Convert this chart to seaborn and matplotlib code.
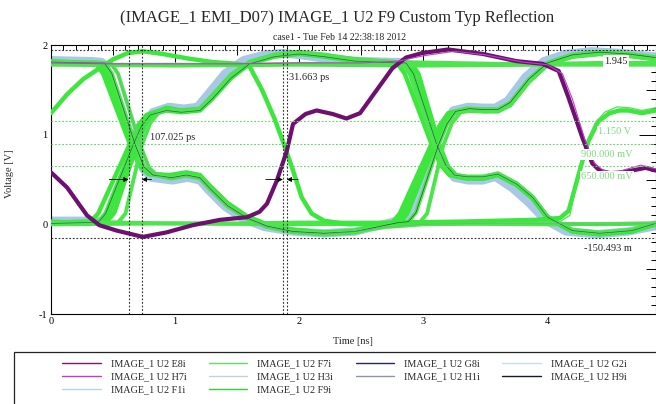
import matplotlib
matplotlib.use("Agg")
import matplotlib.pyplot as plt
from matplotlib.lines import Line2D
from matplotlib.patches import Rectangle
from matplotlib.ticker import FixedLocator, MultipleLocator, FuncFormatter
import seaborn as sns

# ---------------- waveform data (time in ns, voltage in V) ----------------
# eye traces: low -> rise at first crossing -> fall at second crossing
t1_t = [0, 0.22, 0.31, 0.38, 0.63, 0.70, 0.77, 0.93, 1.05, 1.2, 1.3, 1.45, 1.6, 1.8, 2.0, 2.2, 2.45, 2.71, 2.79, 2.85,
        3.07, 3.14, 3.21, 3.35, 3.48, 3.6, 3.75, 3.88, 4.0, 4.2, 4.42, 4.68, 4.87]
t1_v = [0.03, 0.02, 0.02, 0.12, 0.88, 1.1, 1.22, 1.29, 1.26, 1.28, 1.42, 1.65, 1.8, 1.88, 1.91, 1.88, 1.83, 1.80, 1.80, 1.68,
        0.88, 0.66, 0.55, 0.52, 0.52, 0.56, 0.45, 0.3, 0.08, -0.07, -0.1, -0.07, 0.01]
# high -> fall -> rise
t2_t = [0, 0.28, 0.36, 0.42, 0.64, 0.71, 0.78, 0.96, 1.09, 1.2, 1.28, 1.42, 1.58, 1.74, 1.95, 2.2, 2.45, 2.67, 2.75, 2.81,
        3.06, 3.13, 3.20, 3.35, 3.48, 3.6, 3.7, 3.85, 4.0, 4.2, 4.42, 4.65, 4.87]
t2_v = [1.82, 1.80, 1.80, 1.68, 0.88, 0.66, 0.57, 0.54, 0.57, 0.54, 0.42, 0.23, 0.08, -0.01, -0.07, -0.1, -0.08, 0.01, 0.02, 0.12,
        0.88, 1.1, 1.24, 1.28, 1.27, 1.27, 1.34, 1.6, 1.79, 1.88, 1.91, 1.89, 1.85]
t3_t = [0, 0.30, 0.38, 0.44, 0.66, 0.73, 0.80, 0.93, 1.05, 1.2, 1.3, 1.45, 1.6, 1.8, 2.0, 2.2, 2.45, 2.78, 2.86, 2.92,
        3.11, 3.18, 3.25, 3.35, 3.48, 3.6, 3.75, 3.88, 4.0, 4.2, 4.42, 4.68, 4.87]
t3_v = [0.01, 0.02, 0.02, 0.12, 0.88, 1.1, 1.22, 1.27, 1.25, 1.27, 1.40, 1.63, 1.79, 1.87, 1.90, 1.87, 1.82, 1.80, 1.80, 1.68,
        0.88, 0.66, 0.55, 0.53, 0.53, 0.56, 0.45, 0.3, 0.08, -0.07, -0.1, -0.07, 0.01]
t4_t = [0, 0.32, 0.40, 0.46, 0.66, 0.73, 0.80, 0.96, 1.09, 1.2, 1.28, 1.42, 1.58, 1.74, 1.95, 2.2, 2.45, 2.73, 2.81, 2.87,
        3.09, 3.16, 3.23, 3.35, 3.48, 3.6, 3.7, 3.85, 4.0, 4.2, 4.42, 4.65, 4.87]
t4_v = [1.80, 1.80, 1.80, 1.68, 0.88, 0.66, 0.56, 0.53, 0.56, 0.53, 0.41, 0.22, 0.07, -0.02, -0.08, -0.11, -0.09, 0.01, 0.02, 0.12,
        0.88, 1.1, 1.25, 1.29, 1.28, 1.28, 1.35, 1.61, 1.80, 1.89, 1.92, 1.90, 1.86]
t5_t = [0, 0.37, 0.45, 0.51, 0.69, 0.76, 0.83, 0.95, 1.07, 1.2, 1.3, 1.45, 1.6, 1.8, 2.0, 2.2, 2.45, 2.82, 2.90, 2.96,
        3.13, 3.20, 3.27, 3.37, 3.48, 3.6, 3.75, 3.88, 4.0, 4.2, 4.42, 4.68, 4.87]
t5_v = [0.02, 0.03, 0.03, 0.13, 0.88, 1.12, 1.24, 1.28, 1.26, 1.28, 1.43, 1.66, 1.81, 1.89, 1.92, 1.89, 1.84, 1.80, 1.80, 1.68,
        0.88, 0.64, 0.54, 0.52, 0.51, 0.55, 0.44, 0.29, 0.07, -0.08, -0.11, -0.08, 0.0]
t6_t = [0, 0.35, 0.43, 0.49, 0.68, 0.75, 0.82, 0.97, 1.09, 1.2, 1.28, 1.42, 1.58, 1.74, 1.95, 2.2, 2.45, 2.80, 2.88, 2.94,
        3.12, 3.19, 3.26, 3.37, 3.48, 3.6, 3.7, 3.85, 4.0, 4.2, 4.42, 4.65, 4.87]
t6_v = [1.81, 1.80, 1.80, 1.68, 0.88, 0.64, 0.55, 0.52, 0.55, 0.52, 0.40, 0.21, 0.07, -0.02, -0.08, -0.1, -0.08, 0.02, 0.03, 0.13,
        0.88, 1.12, 1.26, 1.29, 1.28, 1.28, 1.36, 1.62, 1.80, 1.89, 1.92, 1.90, 1.86]
t7_t = [0, 0.45, 0.54, 0.60, 0.73, 0.80, 0.87, 0.97, 1.08, 1.2, 1.3, 1.45, 1.6, 1.8, 2.0, 2.2, 2.45, 2.8, 3.2, 3.6, 4.0, 4.4, 4.87]
t7_v = [0.01, 0.02, 0.02, 0.12, 0.88, 1.13, 1.25, 1.28, 1.26, 1.29, 1.44, 1.67, 1.81, 1.89, 1.92, 1.89, 1.84, 1.81, 1.80, 1.79, 1.79, 1.80, 1.80]
t8_t = [0, 0.40, 0.48, 0.54, 0.72, 0.79, 0.86, 0.97, 1.09, 1.2, 1.28, 1.42, 1.58, 1.74, 1.95, 2.2, 2.45, 2.7, 3.0, 3.5, 4.0, 4.4, 4.87]
t8_v = [1.80, 1.80, 1.80, 1.68, 0.88, 0.63, 0.54, 0.51, 0.54, 0.51, 0.39, 0.2, 0.06, -0.03, -0.09, -0.11, -0.08, -0.03, 0.0, 0.01, 0.01, 0.0, 0.01]
t9_t = [0, 0.5, 1.0, 1.5, 2.0, 2.5, 2.75, 2.83, 2.89, 3.09, 3.16, 3.23, 3.35, 3.48, 3.6, 3.75, 3.88, 4.0, 4.2, 4.42, 4.68, 4.87]
t9_v = [1.79, 1.78, 1.78, 1.78, 1.79, 1.79, 1.80, 1.80, 1.68, 0.88, 0.66, 0.56, 0.53, 0.53, 0.57, 0.46, 0.31, 0.09, -0.06, -0.09, -0.06, 0.02]
t10_t = [0, 0.5, 1.0, 1.5, 2.0, 2.5, 2.88, 2.97, 3.03, 3.16, 3.23, 3.30, 3.4, 3.5, 3.6, 3.7, 3.85, 4.0, 4.2, 4.42, 4.65, 4.87]
t10_v = [0.02, 0.02, 0.01, 0.01, 0.02, 0.02, 0.02, 0.02, 0.12, 0.88, 1.13, 1.25, 1.27, 1.26, 1.27, 1.33, 1.59, 1.78, 1.87, 1.90, 1.88, 1.84]
t11_t = [0, 0.30, 0.38, 0.44, 0.65, 0.72, 0.79, 0.96, 1.09, 1.2, 1.28, 1.42, 1.58, 1.74, 1.95, 2.2, 2.45, 2.70, 2.78, 2.84,
         3.08, 3.15, 3.22, 3.35, 3.48, 3.6, 3.7, 3.85, 4.0, 4.2, 4.42, 4.65, 4.87]
t11_v = [1.81, 1.80, 1.80, 1.68, 0.88, 0.65, 0.56, 0.55, 0.58, 0.55, 0.43, 0.24, 0.09, 0.0, -0.06, -0.09, -0.07, 0.01, 0.02, 0.12,
         0.88, 1.1, 1.23, 1.27, 1.26, 1.26, 1.33, 1.59, 1.78, 1.87, 1.90, 1.88, 1.84]
t12_t = [0, 0.33, 0.41, 0.47, 0.67, 0.74, 0.81, 0.93, 1.05, 1.2, 1.3, 1.45, 1.6, 1.8, 2.0, 2.2, 2.45, 2.76, 2.84, 2.90,
         3.10, 3.17, 3.24, 3.35, 3.48, 3.6, 3.75, 3.88, 4.0, 4.2, 4.42, 4.68, 4.87]
t12_v = [0.02, 0.03, 0.03, 0.13, 0.88, 1.11, 1.23, 1.30, 1.27, 1.29, 1.43, 1.66, 1.80, 1.88, 1.91, 1.88, 1.83, 1.80, 1.80, 1.68,
         0.88, 0.65, 0.54, 0.51, 0.51, 0.55, 0.44, 0.29, 0.07, -0.08, -0.11, -0.08, 0.0]
# steady high / low levels
high_t = [0, 1.0, 2.0, 3.0, 4.0, 4.87]
high_v = [1.78, 1.77, 1.78, 1.77, 1.78, 1.78]
low_t = [0, 1.0, 2.0, 3.0, 4.0, 4.87]
low_v = [0.0, 0.01, 0.0, 0.01, 0.0, 0.01]
# F9i victim trace
f9_t = [0, 0.13, 0.26, 0.39, 0.5, 0.62, 0.74, 0.9, 1.1, 1.3, 1.5, 1.6, 1.7, 1.8, 1.88, 1.95, 2.02, 2.1, 2.2, 2.4,
        2.8, 3.3, 3.9, 4.1, 4.17, 4.23, 4.28, 4.33, 4.41, 4.5, 4.58, 4.65, 4.76, 4.87]
f9_v = [1.24, 1.45, 1.62, 1.74, 1.84, 1.91, 1.93, 1.90, 1.85, 1.81, 1.79, 1.76, 1.50, 1.18, 0.88, 0.6, 0.3, 0.12, 0.04, 0.0,
        0.02, 0.03, 0.05, 0.07, 0.15, 0.45, 0.7, 0.93, 1.15, 1.24, 1.27, 1.27, 1.24, 1.27]
f7_t = [3.6, 3.9, 4.1, 4.18, 4.25, 4.3, 4.38, 4.46, 4.56, 4.66, 4.76, 4.87]
f7_v = [0.02, 0.02, 0.03, 0.1, 0.55, 0.85, 1.12, 1.25, 1.31, 1.30, 1.27, 1.30]
# E8i / H7i aggressor traces
e8_t = [0, 0.13, 0.29, 0.39, 0.53, 0.74, 0.93, 1.14, 1.36, 1.58, 1.68, 1.74, 1.82, 1.9, 1.95, 2.05, 2.14, 2.27, 2.38, 2.49,
        2.62, 2.75, 2.86, 2.99, 3.2, 3.48, 3.75, 3.96, 4.09, 4.17, 4.28, 4.36, 4.42, 4.5, 4.6, 4.68, 4.79, 4.87]
e8_v = [0.58, 0.41, 0.1, -0.01, -0.07, -0.14, -0.09, -0.01, 0.05, 0.08, 0.14, 0.23, 0.49, 0.82, 1.12, 1.23, 1.27, 1.23, 1.18, 1.24,
        1.49, 1.74, 1.86, 1.91, 1.95, 1.90, 1.82, 1.79, 1.71, 1.41, 0.97, 0.68, 0.60, 0.57, 0.58, 0.60, 0.63, 0.60]
h7_t = [0, 0.5, 1.0, 1.5, 2.0, 2.5, 2.8, 3.0, 3.25, 3.5, 3.8, 4.0, 4.12, 4.2, 4.3, 4.38, 4.45, 4.55, 4.65, 4.75, 4.87]
h7_v = [1.80, 1.79, 1.79, 1.79, 1.80, 1.80, 1.82, 1.88, 1.93, 1.89, 1.81, 1.78, 1.68, 1.40, 0.95, 0.68, 0.60, 0.58, 0.62, 0.66, 0.62]
# light blue neighbours
f1_t = [0, 0.33, 0.41, 0.47, 0.67, 0.74, 0.81, 0.98, 1.1, 1.2, 1.27, 1.4, 1.55, 1.72, 1.95, 2.2, 2.45, 2.76, 2.84, 2.9,
        3.1, 3.17, 3.24, 3.36, 3.48, 3.58, 3.68, 3.82, 3.97, 4.15, 4.35, 4.6, 4.87]
f1_v = [1.83, 1.82, 1.81, 1.68, 0.88, 0.62, 0.52, 0.49, 0.52, 0.49, 0.38, 0.2, 0.06, -0.03, -0.08, -0.1, -0.08, 0.03, 0.04, 0.13,
        0.88, 1.12, 1.27, 1.31, 1.30, 1.30, 1.38, 1.64, 1.82, 1.90, 1.93, 1.91, 1.87]
h3_t = [0, 0.34, 0.42, 0.48, 0.68, 0.75, 0.82, 0.95, 1.07, 1.18, 1.27, 1.4, 1.55, 1.72, 1.87, 2.05, 2.3, 2.76, 2.85, 2.91,
        3.11, 3.18, 3.25, 3.36, 3.48, 3.58, 3.72, 3.85, 3.98, 4.15, 4.4, 4.65, 4.87]
h3_v = [0.04, 0.04, 0.04, 0.13, 0.88, 1.12, 1.25, 1.31, 1.29, 1.31, 1.46, 1.68, 1.83, 1.89, 1.91, 1.88, 1.83, 1.81, 1.81, 1.68,
        0.88, 0.64, 0.52, 0.49, 0.49, 0.53, 0.40, 0.24, 0.05, -0.08, -0.11, -0.08, -0.02]

# measurement cursors
level_hi, level_lo = 1.945, -0.150493
thresholds = [1.15, 0.9, 0.65]
threshold_labels = ["1.150 V", "900.000 mV", "650.000 mV"]
jitter_a = 0.625
jitter_a_width = 0.107025
jitter_b = 1.868
jitter_b_width = 0.031663

legend_names = ["IMAGE_1 U2 E8i", "IMAGE_1 U2 H7i", "IMAGE_1 U2 F1i", "IMAGE_1 U2 F7i", "IMAGE_1 U2 H3i",
                "IMAGE_1 U2 F9i", "IMAGE_1 U2 G8i", "IMAGE_1 U2 H1i", "IMAGE_1 U2 G2i", "IMAGE_1 U2 H9i"]
legend_colors = ["#7a1a66", "#c23ccc", "#b8d2e4", "#62dc62", "#c2d2e0",
                 "#2fd42f", "#262660", "#8a96a6", "#c6dcea", "#151a2a"]

C_GREEN = "#3ce63c"
C_GREEN2 = "#4ee44e"
C_BLUE = "#a9c8e8"
C_PURPLE = "#6e1070"

# ---------------- figure ----------------
sns.set_theme(style="white")
plt.rcParams["font.family"] = ["Liberation Serif", "DejaVu Serif"]
plt.rcParams["axes.unicode_minus"] = False

fig = plt.figure(figsize=(6.56, 4.04), dpi=100)
ax = fig.add_axes([51 / 656, 1 - 314 / 404, 604.5 / 656, 269 / 404])
ax.set_facecolor("white")


def trace(t, v, color, lw, z, alpha=1.0):
    sns.lineplot(x=t, y=v, ax=ax, color=color, lw=lw, sort=False, estimator=None,
                 legend=False, zorder=z, alpha=alpha, solid_joinstyle="round",
                 solid_capstyle="round")


# light blue traces underneath
trace(f1_t, f1_v, C_BLUE, 6.0, 2)
trace(h3_t, h3_v, C_BLUE, 6.0, 2)

# green eye bundle
for tt, vv in [(t1_t, t1_v), (t2_t, t2_v), (t3_t, t3_v), (t4_t, t4_v), (t5_t, t5_v),
               (t11_t, t11_v), (t12_t, t12_v)]:
    trace(tt, vv, C_GREEN, 3.2, 3)
for tt, vv in [(t6_t, t6_v), (t7_t, t7_v), (t8_t, t8_v), (t9_t, t9_v), (t10_t, t10_v),
               (high_t, high_v), (low_t, low_v)]:
    trace(tt, vv, C_GREEN2, 2.8, 3)
trace(f9_t, f9_v, C_GREEN, 3.2, 3.5)
trace(f7_t, f7_v, C_GREEN2, 0.9, 3.5)

# dark neighbours inside the bundle
trace(t3_t, t3_v, "#262660", 0.5, 3.6, 0.7)
trace(t6_t, t6_v, "#151a2a", 0.5, 3.6, 0.7)
trace(t8_t, t8_v, "#8a96a6", 0.5, 3.6, 0.7)

# aggressors
trace(e8_t, e8_v, C_PURPLE, 3.0, 4)
trace(h7_t, h7_v, "#c23ccc", 0.8, 4.1)

# reference levels and cursors
dot = (0, (1.6, 1.6))
ax.axhline(level_hi, color="#333333", lw=0.8, ls=dot, zorder=5)
ax.axhline(level_lo, color="#333333", lw=0.8, ls=dot, zorder=5)
for th in thresholds:
    ax.axhline(th, color="#62d862", lw=0.8, ls=dot, zorder=5)
for xc in [jitter_a, jitter_a + jitter_a_width, jitter_b, jitter_b + jitter_b_width]:
    ax.axvline(xc, color="#333333", lw=0.8, ls=dot, zorder=5)

arrow = dict(arrowstyle="-|>", color="black", lw=0.6, mutation_scale=7, shrinkA=0, shrinkB=0)
ax.annotate("", xy=(jitter_a, 0.5), xytext=(0.47, 0.5), arrowprops=arrow, zorder=6)
ax.annotate("", xy=(jitter_a + jitter_a_width, 0.5), xytext=(0.81, 0.5), arrowprops=arrow, zorder=6)
ax.annotate("", xy=(jitter_b, 0.5), xytext=(1.73, 0.5), arrowprops=arrow, zorder=6)
ax.annotate("", xy=(jitter_b + jitter_b_width, 0.5), xytext=(1.99, 0.5), arrowprops=arrow, zorder=6)

ax.text(0.80, 0.97, f"{jitter_a_width * 1000:.3f} ps", fontsize=7.5, ha="left", va="center", zorder=7)
ax.text(1.915, 1.64, f"{jitter_b_width * 1000:.3f} ps", fontsize=7.5, ha="left", va="center", zorder=7)

box = dict(facecolor="white", edgecolor="none", pad=0.8)
ax.text(4.55, 1.82, f"{level_hi:.3f}", fontsize=7.5, ha="center", va="center", bbox=box, zorder=7)
ax.text(4.29, -0.27, f"{level_lo * 1000:.3f} m", fontsize=7.5, ha="left", va="center", zorder=7)
for th, lab, x0 in zip(thresholds, threshold_labels, [4.41, 4.27, 4.27]):
    ax.text(x0, th - 0.12, lab, fontsize=7.5, color="#7ddc7d", ha="left", va="center", bbox=box, zorder=7)

# axes, ticks
ax.set_xlim(0, 4.87)
ax.set_ylim(-1, 2)
x_major = [0, 0.5, 1, 1.5, 2, 2.5, 3, 3.5, 4, 4.5]
y_major = [-1, -0.5, 0, 0.5, 1, 1.5, 2]
int_fmt = FuncFormatter(lambda v, p: f"{v:g}" if float(v).is_integer() else "")
ax.xaxis.set_major_locator(FixedLocator(x_major))
ax.yaxis.set_major_locator(FixedLocator(y_major))
ax.xaxis.set_major_formatter(int_fmt)
ax.yaxis.set_major_formatter(int_fmt)
ax.xaxis.set_minor_locator(MultipleLocator(0.1))
ax.yaxis.set_minor_locator(MultipleLocator(0.1))
ax.tick_params(which="both", direction="in", top=True, right=True, colors="black",
               width=0.7, labelsize=7.5, pad=2.5)
ax.tick_params(which="major", length=12)
ax.tick_params(which="minor", length=3.5)
for axis, locs in [(ax.xaxis, x_major), (ax.yaxis, y_major)]:
    for tk, loc in zip(axis.get_major_ticks(len(locs)), locs):
        if not float(loc).is_integer():
            tk.tick1line.set_markersize(7)
            tk.tick2line.set_markersize(7)
for sp in ax.spines.values():
    sp.set_color("black")
    sp.set_linewidth(0.8)

ax.set_xlabel("Time [ns]", fontsize=7.5)
ax.set_ylabel("Voltage [V]", fontsize=7.5)
ax.xaxis.set_label_coords(0.5, -0.085)
ax.yaxis.set_label_coords(-0.062, 0.52)

fig.text(0.5145, 1 - 18 / 404, "(IMAGE_1 EMI_D07) IMAGE_1 U2 F9 Custom Typ Reflection",
         ha="center", va="center", fontsize=12)
fig.text(0.517, 1 - 38 / 404, "case1 - Tue Feb 14 22:38:18 2012", ha="center", va="center", fontsize=7)

# legend panel
fig.patches.append(Rectangle((14 / 656, -0.2), 1.2, 0.2 + (404 - 352) / 404, transform=fig.transFigure,
                             fill=False, edgecolor="#222222", lw=0.9, clip_on=False))
handles = [Line2D([0], [0], color=c, lw=1.0) for c in legend_colors]
fig.legend(handles, legend_names, loc="upper left", bbox_to_anchor=(62 / 656, 1 - 359 / 404),
           ncol=4, frameon=False, fontsize=7.3, handlelength=3.8, handletextpad=1.0,
           columnspacing=2.2, labelspacing=0.4, borderpad=0, borderaxespad=0)

fig.savefig("out.png", dpi=100)
